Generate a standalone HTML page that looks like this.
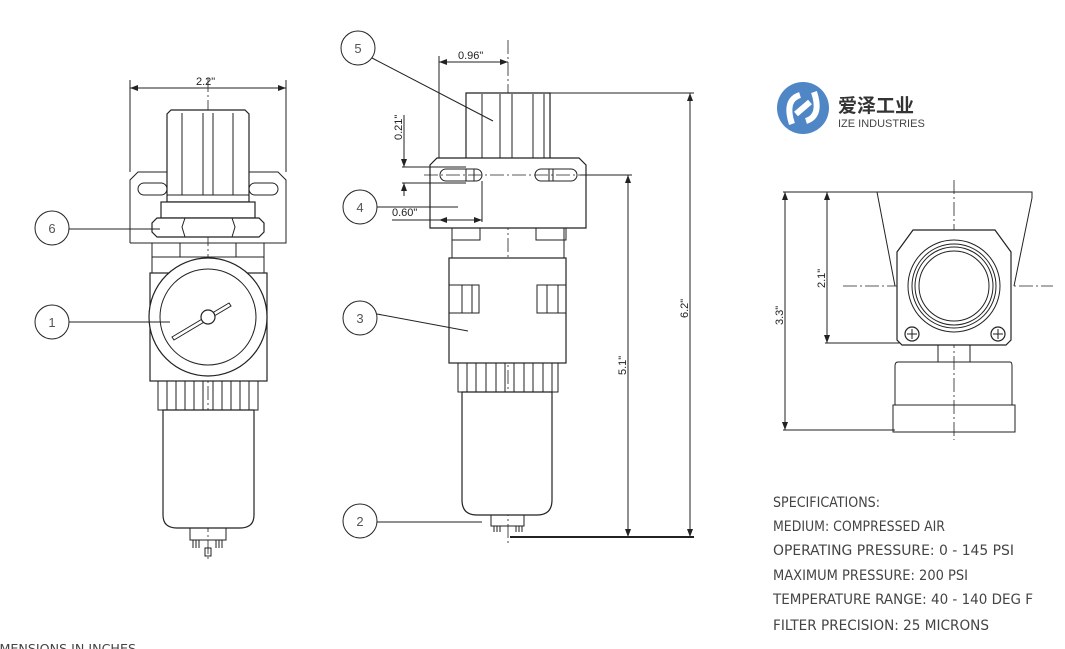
<!DOCTYPE html>
<html><head><meta charset="utf-8"><style>
html,body{margin:0;padding:0;background:#fff;width:1065px;height:649px;overflow:hidden}
svg{display:block}
.l{fill:none;stroke:#222;stroke-width:1}
.t{stroke:#222;stroke-width:1.2;fill:#fff}
.c{stroke:#222;stroke-width:0.8;stroke-dasharray:14 3 2 3;fill:none}
.s{font-family:"DejaVu Sans Condensed","Liberation Sans Narrow","Liberation Sans",sans-serif;font-size:14px;fill:#444}
.d{font-family:"Liberation Sans",sans-serif;font-size:11px;fill:#222}
.b{font-family:"Liberation Sans",sans-serif;font-size:13px;fill:#555;text-anchor:middle}
</style></head><body>
<svg width="1065" height="649" viewBox="0 0 1065 649">
<defs><marker id="a" markerWidth="8" markerHeight="6" refX="8" refY="3" orient="auto-start-reverse"><path d="M0,0 L8,3 L0,6z" fill="#222"/></marker></defs>

<!-- FRONT VIEW -->
<line class="c" x1="208" y1="78" x2="208" y2="562"/>
<line class="l" x1="130" y1="80" x2="130" y2="172"/><line class="l" x1="286" y1="80" x2="286" y2="172"/>
<line class="l" x1="130" y1="88" x2="286" y2="88" marker-start="url(#a)" marker-end="url(#a)"/>
<text class="d" x="196" y="85">2.2"</text>
<path class="l" d="M130,243 V180 L138,172 H167 M249,172 H278 L286,180 V243 H130"/>
<rect class="l" x="138" y="183" width="29" height="12" rx="6"/><rect class="l" x="249" y="183" width="29" height="12" rx="6"/>
<path class="t" d="M167,202 V114 L171,110 H245 L249,114 V202Z"/>
<path class="l" d="M182,113 V195 M203,113 V195 M213,113 V195 M233,113 V195 M167,195 H249"/>
<rect class="t" x="161" y="202" width="94" height="16"/>
<path class="t" d="M157,218 H259 L264,223 V232 L259,237 H157 L152,232 V223Z"/>
<path class="l" d="M185,218 L182,227 L185,237 M232,218 L235,227 L232,237"/>
<rect class="l" x="152" y="243" width="28" height="14"/><rect class="l" x="236" y="243" width="28" height="14"/>
<rect class="l" x="152" y="257" width="112" height="16"/>
<rect class="t" x="150" y="273" width="117" height="108"/>
<circle class="t" cx="208" cy="317" r="59"/><circle class="l" cx="208" cy="317" r="48"/>
<path class="l" d="M172,337 L229,303 L231,306 L174,340Z"/><circle class="t" cx="208" cy="317" r="7"/>
<rect class="l" x="158" y="381" width="100" height="29"/>
<path class="l" d="M167,381V410M176,381V410M185,381V410M194,381V410M203,381V410M213,381V410M222,381V410M231,381V410M240,381V410M249,381V410"/>
<path class="t" d="M163,410 H254 V515 Q254,528 240,528 H177 Q163,528 163,515Z"/>
<rect class="l" x="190" y="528" width="36" height="12"/>
<path class="l" d="M193,540v8M196,540v8M199,540v8M216,540v8M219,540v8M222,540v8M205,548h6v8h-6z"/>
<circle class="l" cx="52" cy="228" r="17"/><text class="b" x="52" y="233">6</text><line class="l" x1="69" y1="229" x2="160" y2="229"/>
<circle class="l" cx="52" cy="322" r="17"/><text class="b" x="52" y="327">1</text><line class="l" x1="69" y1="322" x2="170" y2="322"/>

<!-- SIDE VIEW -->
<line class="c" x1="508" y1="40" x2="508" y2="545"/>
<line class="l" x1="439" y1="56" x2="439" y2="222"/>
<line class="l" x1="439" y1="62" x2="508" y2="62" marker-start="url(#a)" marker-end="url(#a)"/>
<text class="d" x="458" y="59">0.96"</text>
<path class="t" d="M466,158 V93 H550 V158"/>
<path class="l" d="M482,94V158M500,94V158M512,94V158M533,94V158M544,94V158"/>
<path class="t" d="M430,228 V165 L437,158 H579 L586,165 V228Z"/>
<rect class="l" x="440" y="169" width="42" height="12" rx="6"/><rect class="l" x="535" y="169" width="42" height="12" rx="6"/>
<path class="l" d="M466,169v12M474,169v12M549,169v12M553,169v12"/>
<line class="c" x1="424" y1="175" x2="632" y2="175"/>
<line class="l" x1="402" y1="167" x2="466" y2="167"/><line class="l" x1="402" y1="183" x2="466" y2="183"/>
<line class="l" x1="404" y1="115" x2="404" y2="167" marker-end="url(#a)"/>
<line class="l" x1="404" y1="196" x2="404" y2="183" marker-end="url(#a)"/>
<text class="d" transform="translate(402,140) rotate(-90)">0.21"</text>
<line class="l" x1="482" y1="181" x2="482" y2="222"/>
<line class="l" x1="392" y1="220" x2="482" y2="220"/>
<line class="l" x1="439" y1="220" x2="482" y2="220" marker-start="url(#a)" marker-end="url(#a)"/>
<text class="d" x="392" y="216">0.60"</text>
<rect class="l" x="452" y="228" width="28" height="12"/><rect class="l" x="536" y="228" width="30" height="12"/>
<rect class="l" x="452" y="228" width="112" height="30"/>
<rect class="t" x="449" y="258" width="117" height="105"/>
<rect class="l" x="449" y="285" width="30" height="28"/><rect class="l" x="537" y="285" width="29" height="28"/>
<path class="l" d="M462,285v28M472,285v28M547,285v28M558,285v28"/>
<rect class="l" x="458" y="363" width="100" height="29"/>
<path class="l" d="M467,363V392M476,363V392M486,363V392M496,363V392M505,363V392M514,363V392M524,363V392M533,363V392M543,363V392M552,363V392"/>
<path class="t" d="M462,392 H552 V500 Q552,515 537,515 H477 Q462,515 462,500Z"/>
<rect class="l" x="491" y="515" width="33" height="11"/>
<path class="l" d="M494,526v6M497,526v6M500,526v6M516,526v6M519,526v6M522,526v6"/>
<line class="l" x1="548" y1="93" x2="694" y2="93"/><line class="l" x1="580" y1="175" x2="632" y2="175"/>
<line class="l" x1="510" y1="537" x2="694" y2="537" style="stroke-width:2"/>
<line class="l" x1="628" y1="175" x2="628" y2="537" marker-start="url(#a)" marker-end="url(#a)"/>
<text class="d" transform="translate(626,375) rotate(-90)">5.1"</text>
<line class="l" x1="690" y1="93" x2="690" y2="537" marker-start="url(#a)" marker-end="url(#a)"/>
<text class="d" transform="translate(688,318) rotate(-90)">6.2"</text>
<circle class="l" cx="358" cy="48" r="17"/><text class="b" x="358" y="53">5</text><line class="l" x1="372" y1="58" x2="493" y2="121"/>
<circle class="l" cx="360" cy="207" r="17"/><text class="b" x="360" y="212">4</text><line class="l" x1="377" y1="207" x2="458" y2="207"/>
<circle class="l" cx="360" cy="318" r="17"/><text class="b" x="360" y="323">3</text><line class="l" x1="377" y1="314" x2="468" y2="331"/>
<circle class="l" cx="360" cy="521" r="17"/><text class="b" x="360" y="526">2</text><line class="l" x1="377" y1="522" x2="482" y2="522"/>

<!-- LOGO -->
<circle cx="803" cy="108" r="26" fill="#4f86c6"/>
<path d="M792,124 Q784,100 800,95 M814,92 Q822,116 806,121 M796,114 L810,102" stroke="#fff" stroke-width="6" fill="none"/>
<text x="838" y="112" style="font-family:'Noto Sans CJK SC',sans-serif;font-size:19px;font-weight:bold;fill:#333">爱泽工业</text>
<text x="838" y="127" style="font-family:'Liberation Sans',sans-serif;font-size:11px;fill:#444">IZE INDUSTRIES</text>

<!-- RIGHT VIEW -->
<line class="c" x1="954" y1="180" x2="954" y2="440"/>
<line class="c" x1="843" y1="286" x2="1053" y2="286"/>
<path class="l" d="M877,192 H1032 L1032,198 L1014,286 M877,192 L895,286"/>
<path class="t" d="M913,230 H995 L1011,252 V340 L1006,345 H902 L897,340 V252Z"/>
<circle class="l" cx="954" cy="286" r="46"/><circle class="l" cx="954" cy="286" r="42"/><circle class="l" cx="954" cy="286" r="39"/><circle class="l" cx="954" cy="286" r="35"/>
<circle class="t" cx="912" cy="334" r="7"/><circle class="t" cx="998" cy="334" r="7"/>
<path class="l" d="M907,334h10M912,329v10M993,334h10M998,329v10"/>
<rect class="l" x="938" y="345" width="32" height="17"/>
<path class="l" d="M898,362 H1010 Q1012,362 1012,366 V405 H895 V366 Q895,362 898,362Z"/>
<rect class="l" x="893" y="405" width="122" height="27"/>
<line class="l" x1="783" y1="192" x2="877" y2="192"/><line class="l" x1="825" y1="343" x2="900" y2="343"/><line class="l" x1="783" y1="430" x2="895" y2="430"/>
<line class="l" x1="785" y1="192" x2="785" y2="430" marker-start="url(#a)" marker-end="url(#a)"/>
<text class="d" transform="translate(783,325) rotate(-90)">3.3"</text>
<line class="l" x1="827" y1="192" x2="827" y2="343" marker-start="url(#a)" marker-end="url(#a)"/>
<text class="d" transform="translate(825,288) rotate(-90)">2.1"</text>

<!-- SPECS -->
<text class="s" x="773" y="507" textLength="107" lengthAdjust="spacingAndGlyphs">SPECIFICATIONS:</text>
<text class="s" x="773" y="531" textLength="172" lengthAdjust="spacingAndGlyphs">MEDIUM:  COMPRESSED AIR</text>
<text class="s" x="773" y="555" textLength="241" lengthAdjust="spacingAndGlyphs">OPERATING PRESSURE:  0 - 145 PSI</text>
<text class="s" x="773" y="580" textLength="195" lengthAdjust="spacingAndGlyphs">MAXIMUM PRESSURE:  200 PSI</text>
<text class="s" x="773" y="604" textLength="260" lengthAdjust="spacingAndGlyphs">TEMPERATURE RANGE:  40 - 140 DEG F</text>
<text class="s" x="773" y="630" textLength="216" lengthAdjust="spacingAndGlyphs">FILTER PRECISION:  25 MICRONS</text>
<text class="s" x="-14" y="653" textLength="150" lengthAdjust="spacingAndGlyphs" style="font-size:12px">DIMENSIONS IN INCHES</text>
</svg>
</body></html>
